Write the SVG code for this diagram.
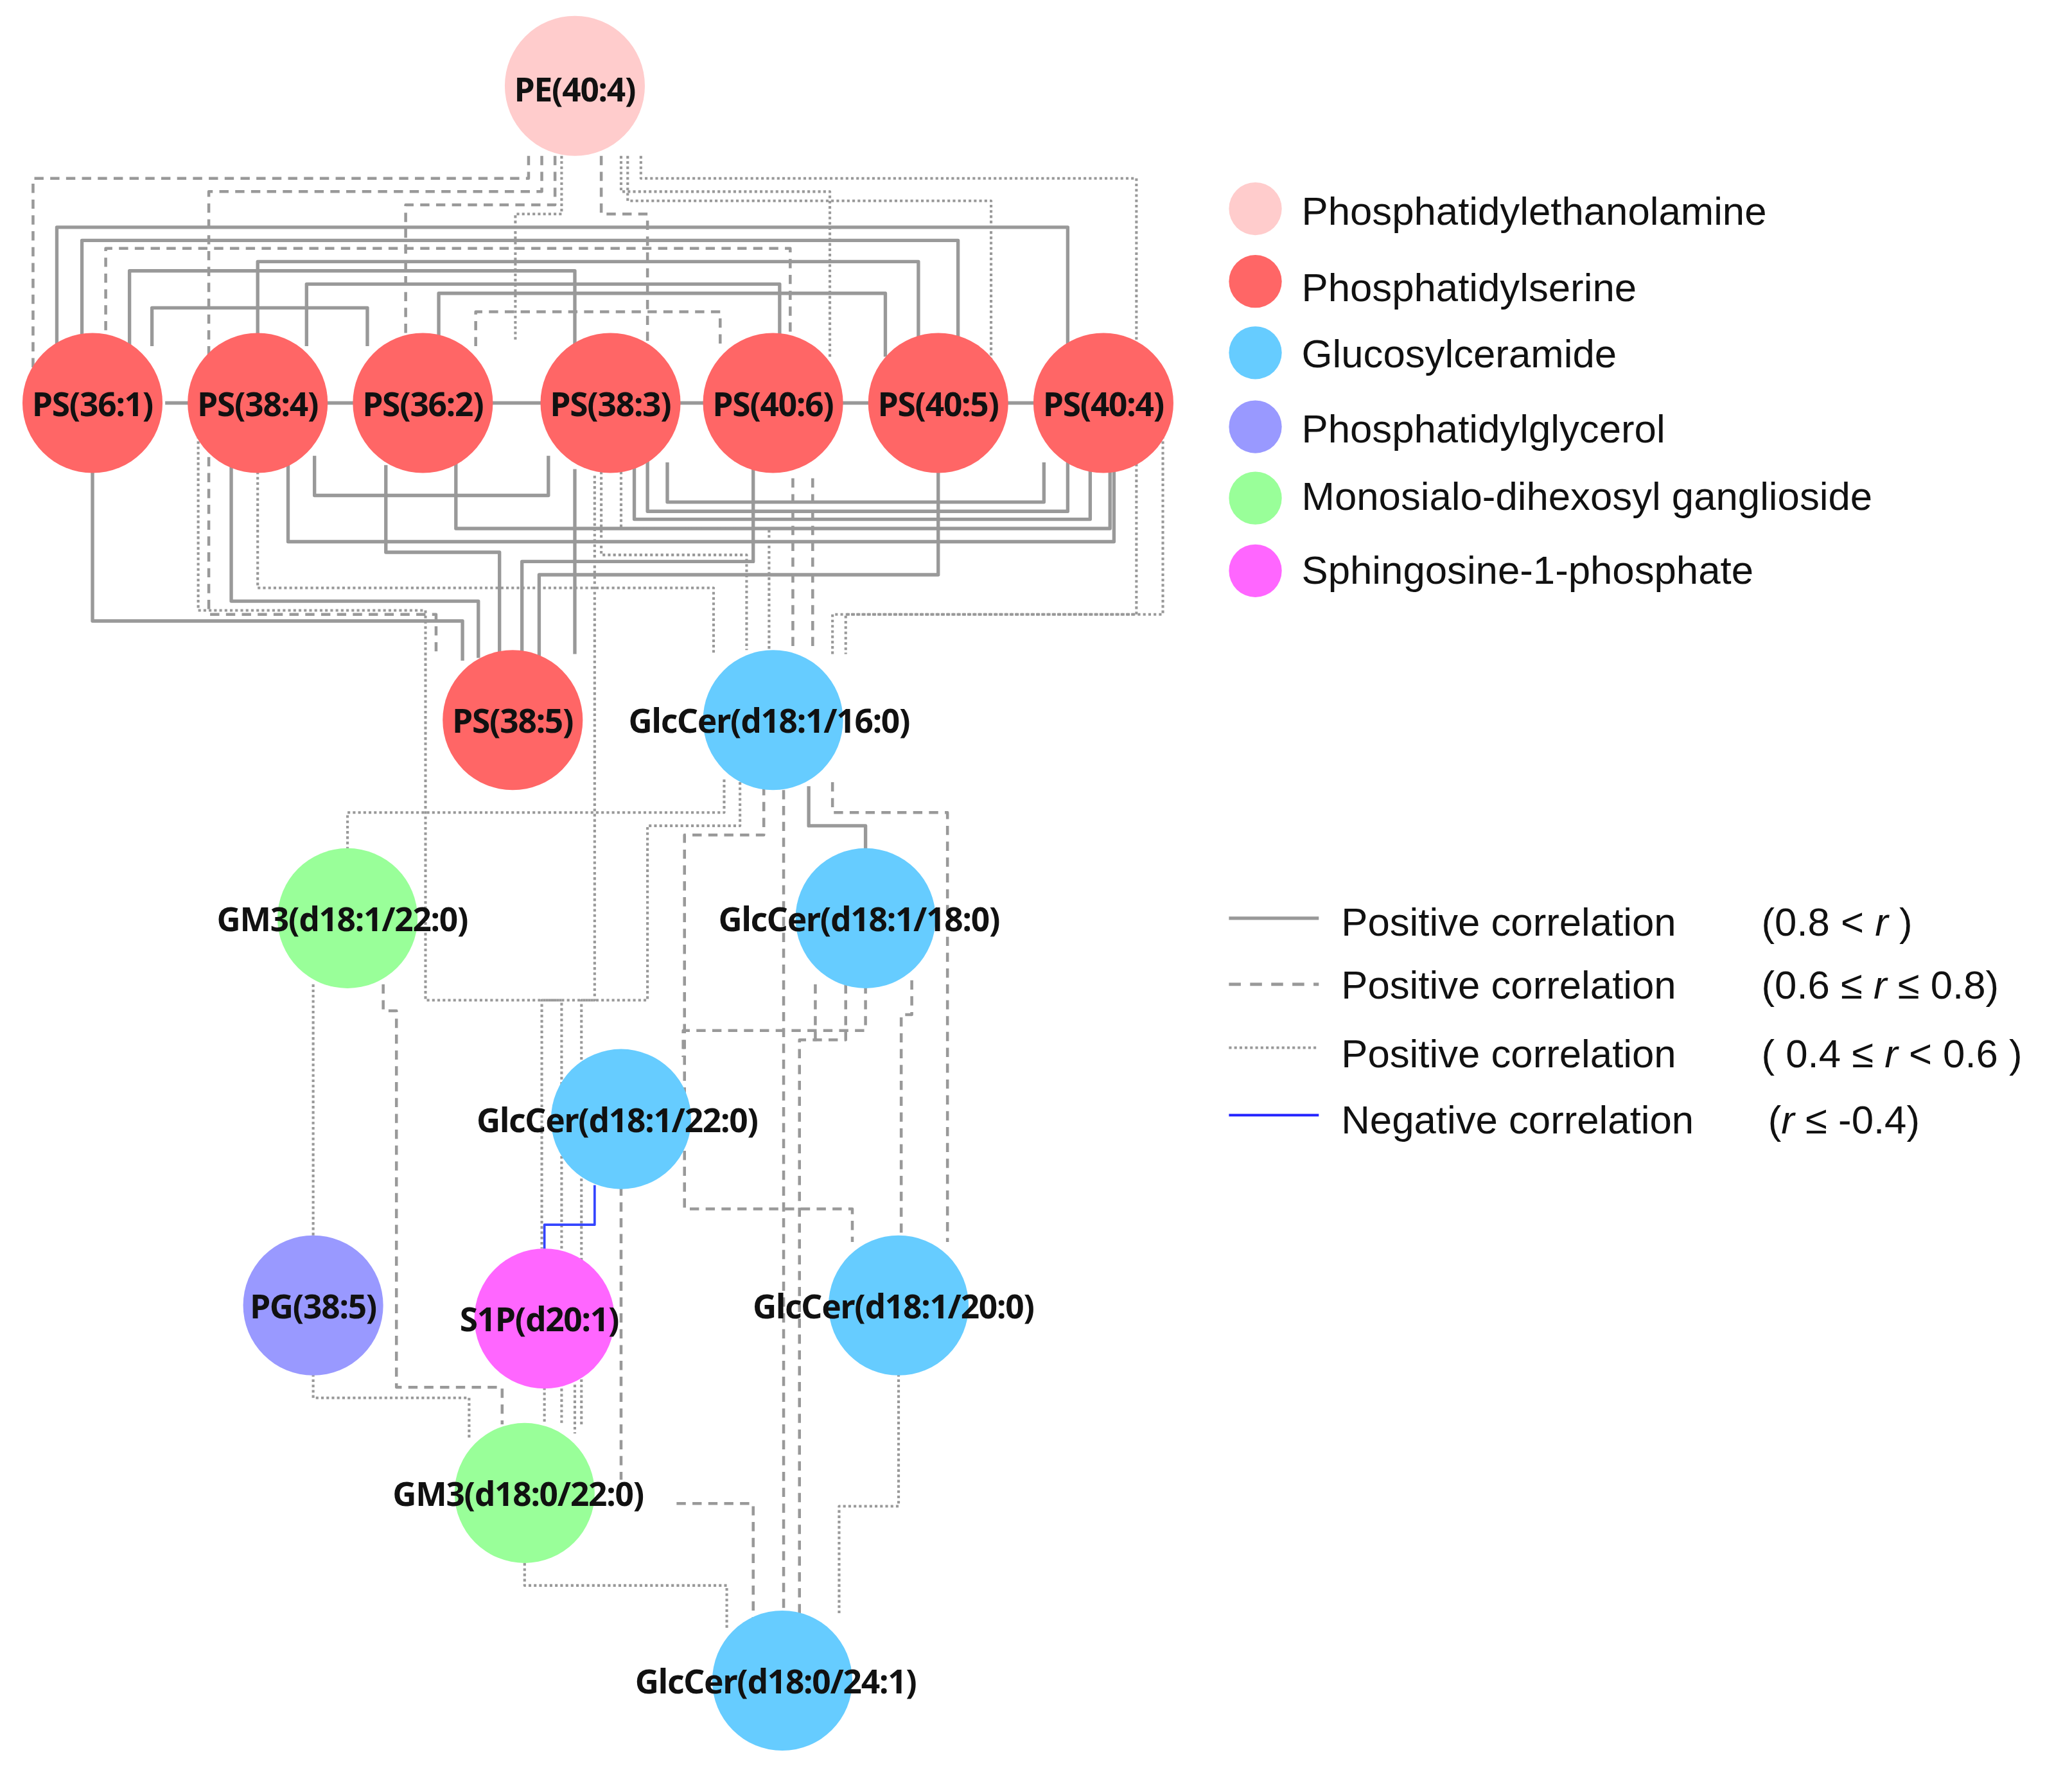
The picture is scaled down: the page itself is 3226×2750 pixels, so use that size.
<svg xmlns="http://www.w3.org/2000/svg" width="3226" height="2750" viewBox="0 0 3226 2750">
<style>
.n text{font-family:"Noto Sans","DejaVu Sans",sans-serif;font-weight:bold;font-size:25px;fill:#111;text-anchor:middle;dominant-baseline:central;letter-spacing:-0.6px}
.e path{fill:none;stroke:#999;stroke-linejoin:round}
.s{stroke-width:2.6}
.d{stroke-width:2.2;stroke-dasharray:7 5}
.t{stroke-width:2;stroke-dasharray:2 2}
.b{stroke:#3344ff !important;stroke-width:1.8}
.lg{font-family:"Liberation Sans",Arial,sans-serif;font-size:30px;fill:#111}
</style>
<rect width="3226" height="2750" fill="#fff"/>
<g transform="scale(2.0574)">
<g id="connectors" class="e">
<!-- PE to PS -->
<path class="d" d="M400,118V135H25V280"/>
<path class="d" d="M410,118V145H158V465H330V495"/>
<path class="d" d="M420,118V155H307V260"/>
<path class="t" d="M425,118V162H390V258"/>
<path class="d" d="M455,118V162H490V258"/>
<path class="t" d="M470,118V145H628V270"/>
<path class="t" d="M475,118V152H750V272"/>
<path class="t" d="M485,118V135H860V465H630V495"/>
<!-- PS arcs above -->
<path class="s" d="M43,280V172H808V270"/>
<path class="s" d="M62,265V182H725V268"/>
<path class="d" d="M80,262V188H598V262"/>
<path class="s" d="M195,253V198H695V262"/>
<path class="s" d="M98,262V205H435V262"/>
<path class="s" d="M232,262V215H590V258"/>
<path class="s" d="M332,262V222H670V270"/>
<path class="s" d="M115,262V233H278V262"/>
<path class="d" d="M360,262V236H545V262"/>
<path class="s" d="M125,305H790"/>
<!-- PS arcs below -->
<path class="s" d="M238,345V375H415V345"/>
<path class="s" d="M505,350V380H790V350"/>
<path class="s" d="M490,345V387H808V345"/>
<path class="s" d="M480,345V393H825V345"/>
<path class="s" d="M345,350V400H840V350"/>
<path class="s" d="M218,350V410H843V345"/>
<!-- PS to PS(38:5) -->
<path class="s" d="M70,357V470H350V500"/>
<path class="s" d="M175,350V455H362V498"/>
<path class="s" d="M292,352V418H378V495"/>
<path class="s" d="M435,355V495"/>
<path class="s" d="M570,355V425H395V495"/>
<path class="s" d="M710,355V435H408V500"/>
<!-- dotted PS to GlcCer -->
<path class="t" d="M195,357V445H540V495"/>
<path class="t" d="M150,330V462H322V757H425V1078"/>
<path class="t" d="M455,357V420H565V492"/>
<path class="t" d="M470,357V400H582V492"/>
<path class="t" d="M450,360V757H410V945"/>
<path class="t" d="M880,330V465H640V495"/>
<path class="d" d="M600,362V492"/>
<path class="d" d="M615,362V492"/>
<!-- lower -->
<path class="t" d="M548,590V615H263V643"/>
<path class="t" d="M560,592V625H490V757H440V1078"/>
<path class="d" d="M578,595V632H518V915H645V940"/>
<path class="s" d="M612,595V625H655V645"/>
<path class="d" d="M630,592V615H717V940"/>
<path class="d" d="M593,598V1222"/>
<path class="d" d="M655,745V780H517V800"/>
<path class="d" d="M640,745V787H605V1222"/>
<path class="d" d="M690,742V768H682V938"/>
<path class="t" d="M680,1040V1140H635V1222"/>
<path class="d" d="M512,1138H570V1225"/>
<path class="t" d="M397,1183V1200H550V1232"/>
<path class="t" d="M237,1040V1058H355V1088"/>
<path class="t" d="M237,745V938"/>
<path class="d" d="M290,745V765H300V1050H380V1078"/>
<path class="b" d="M450,897V927H412V947"/>
<path class="t" d="M412,1050V1078"/>
<path class="t" d="M435,1048V1085"/>
<path class="d" d="M470,898V1120"/>
<path class="d" d="M617,745V790"/>
</g>
<g id="PE404" class="n"><circle cx="435" cy="65" r="53" fill="#ffcccc"/><text x="435" y="67">PE(40:4)</text></g>
<g id="PS361" class="n"><circle cx="70" cy="305" r="53" fill="#ff6666"/><text x="70" y="305">PS(36:1)</text></g>
<g id="PS384" class="n"><circle cx="195" cy="305" r="53" fill="#ff6666"/><text x="195" y="305">PS(38:4)</text></g>
<g id="PS362" class="n"><circle cx="320" cy="305" r="53" fill="#ff6666"/><text x="320" y="305">PS(36:2)</text></g>
<g id="PS383" class="n"><circle cx="462" cy="305" r="53" fill="#ff6666"/><text x="462" y="305">PS(38:3)</text></g>
<g id="PS406" class="n"><circle cx="585" cy="305" r="53" fill="#ff6666"/><text x="585" y="305">PS(40:6)</text></g>
<g id="PS405" class="n"><circle cx="710" cy="305" r="53" fill="#ff6666"/><text x="710" y="305">PS(40:5)</text></g>
<g id="PS404" class="n"><circle cx="835" cy="305" r="53" fill="#ff6666"/><text x="835" y="305">PS(40:4)</text></g>
<g id="PS385" class="n"><circle cx="388" cy="545" r="53" fill="#ff6666"/><text x="388" y="545">PS(38:5)</text></g>
<g id="GlcCer16" class="n"><circle cx="585" cy="545" r="53" fill="#66ccff"/><text x="582" y="545">GlcCer(d18:1/16:0)</text></g>
<g id="GM3_22" class="n"><circle cx="263" cy="695" r="53" fill="#99ff99"/><text x="259" y="695">GM3(d18:1/22:0)</text></g>
<g id="GlcCer18" class="n"><circle cx="655" cy="695" r="53" fill="#66ccff"/><text x="650" y="695">GlcCer(d18:1/18:0)</text></g>
<g id="GlcCer22" class="n"><circle cx="470" cy="847" r="53" fill="#66ccff"/><text x="467" y="847">GlcCer(d18:1/22:0)</text></g>
<g id="PG385" class="n"><circle cx="237" cy="988" r="53" fill="#9999ff"/><text x="237" y="988">PG(38:5)</text></g>
<g id="S1P" class="n"><circle cx="412" cy="998" r="53" fill="#ff66ff"/><text x="408" y="998">S1P(d20:1)</text></g>
<g id="GlcCer20" class="n"><circle cx="680" cy="988" r="53" fill="#66ccff"/><text x="676" y="988">GlcCer(d18:1/20:0)</text></g>
<g id="GM3_d180" class="n"><circle cx="397" cy="1130" r="53" fill="#99ff99"/><text x="392" y="1130">GM3(d18:0/22:0)</text></g>
<g id="GlcCer24" class="n"><circle cx="592" cy="1272" r="53" fill="#66ccff"/><text x="587" y="1272">GlcCer(d18:0/24:1)</text></g>
<g id="legend">
<circle cx="950" cy="158" r="20" fill="#ffcccc"/><text class="lg" x="985" y="170">Phosphatidylethanolamine</text>
<circle cx="950" cy="213" r="20" fill="#ff6666"/><text class="lg" x="985" y="228">Phosphatidylserine</text>
<circle cx="950" cy="267" r="20" fill="#66ccff"/><text class="lg" x="985" y="278">Glucosylceramide</text>
<circle cx="950" cy="323" r="20" fill="#9999ff"/><text class="lg" x="985" y="335">Phosphatidylglycerol</text>
<circle cx="950" cy="377" r="20" fill="#99ff99"/><text class="lg" x="985" y="386">Monosialo-dihexosyl ganglioside</text>
<circle cx="950" cy="432" r="20" fill="#ff66ff"/><text class="lg" x="985" y="442">Sphingosine-1-phosphate</text>
<line x1="930" y1="695" x2="998" y2="695" stroke="#999" stroke-width="2.6"/>
<line x1="930" y1="745" x2="998" y2="745" stroke="#999" stroke-width="2.4" stroke-dasharray="9 7"/>
<line x1="930" y1="793" x2="998" y2="793" stroke="#999" stroke-width="2" stroke-dasharray="2 2"/>
<line x1="930" y1="844" x2="998" y2="844" stroke="#2222ff" stroke-width="2"/>
<text class="lg" x="1015" y="708">Positive correlation</text><text class="lg" x="1333" y="708">(0.8 &lt; <tspan font-style="italic">r</tspan> )</text>
<text class="lg" x="1015" y="756">Positive correlation</text><text class="lg" x="1333" y="756">(0.6 ≤ <tspan font-style="italic">r</tspan> ≤ 0.8)</text>
<text class="lg" x="1015" y="808">Positive correlation</text><text class="lg" x="1333" y="808">( 0.4 ≤ <tspan font-style="italic">r</tspan> &lt; 0.6 )</text>
<text class="lg" x="1015" y="858">Negative correlation</text><text class="lg" x="1338" y="858">(<tspan font-style="italic">r</tspan> ≤ -0.4)</text>
</g>
</g>
</svg>
